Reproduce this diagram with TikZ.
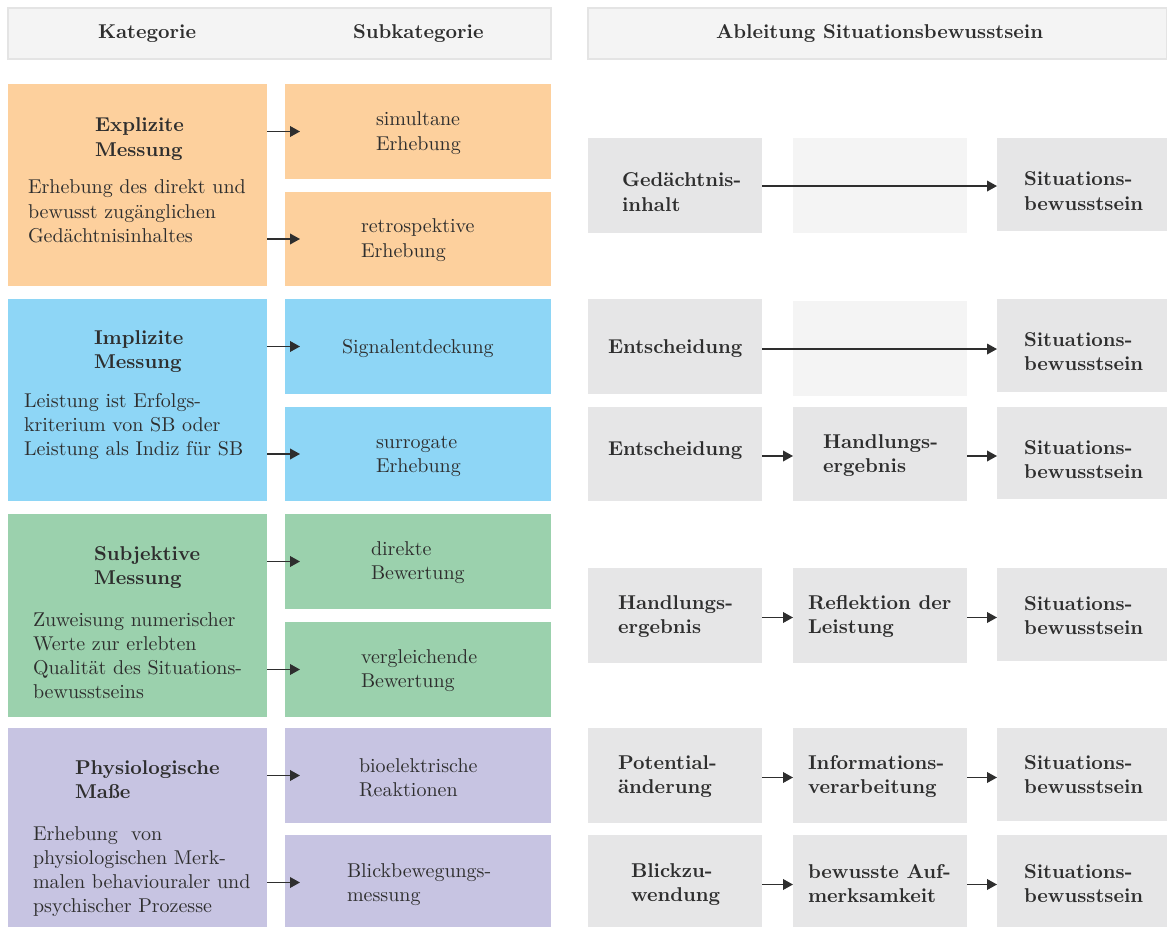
\documentclass[tikz,border=0pt]{standalone}
\usetikzlibrary{fit,arrows.meta}
\definecolor{cOr}{HTML}{FDD09D}
\definecolor{cBl}{HTML}{8ED6F6}
\definecolor{cGr}{HTML}{9BD1AD}
\definecolor{cPu}{HTML}{C7C4E2}
\definecolor{cGy}{HTML}{E6E6E7}
\definecolor{cLg}{HTML}{F4F4F4}
\definecolor{hdline}{HTML}{E4E4E4}
\definecolor{txt}{HTML}{2E2E2E}
\font\lmreg="[lmroman10-regular]:+tlig;" at 15pt
\font\lmbold="[lmroman10-bold]:+tlig;" at 15pt
\begin{document}
\begin{tikzpicture}[x=0.75pt,y=-0.75pt,
  every node/.style={font=\fontsize{15}{18.2}\selectfont\lmreg, text=txt, inner sep=0pt, outer sep=0pt},
  box/.style={fit={#1}, inner sep=0pt, draw=none},
  lbl/.style={anchor=base west, align=left},
  blbl/.style={anchor=base west, align=left, font=\fontsize{15}{18.2}\selectfont\lmbold},
  n2/.style={yshift=-18.2pt},
  n3/.style={yshift=-36.4pt},
  n4/.style={yshift=-54.6pt},
  arr/.style={-{Triangle[length=7.5pt,width=8pt]}, line width=1.1pt, draw=txt},
  gbox/.style={fill=cGy},
  lbox/.style={fill=cLg}
]
\useasboundingbox (0,0) rectangle (1167,927);

% headers
\node[box={(8,8)(551,59)}, fill=cLg, draw=hdline, line width=0.8pt] (hb1) {};
\node[box={(588,8)(1167,59)}, fill=cLg, draw=hdline, line width=0.8pt] (hb2) {};
\node[blbl] (h1) at (98,39) {Kategorie};
\node[blbl] (h2) at (353,39) {Subkategorie};
\node[blbl] (h3) at (716,39) {Ableitung Situationsbewusstsein};

% left boxes
\node[box={(8,84)(267,286)}, fill=cOr] (k1) {};
\node[box={(285,84)(551,179)}, fill=cOr] (k1a) {};
\node[box={(285,192)(551,286)}, fill=cOr] (k1b) {};
\node[box={(8,299)(267,501)}, fill=cBl] (k2) {};
\node[box={(285,299)(551,394)}, fill=cBl] (k2a) {};
\node[box={(285,407)(551,501)}, fill=cBl] (k2b) {};
\node[box={(8,514)(267,717)}, fill=cGr] (k3) {};
\node[box={(285,514)(551,609)}, fill=cGr] (k3a) {};
\node[box={(285,622)(551,717)}, fill=cGr] (k3b) {};
\node[box={(8,728)(267,930)}, fill=cPu] (k4) {};
\node[box={(285,728)(551,823)}, fill=cPu] (k4a) {};
\node[box={(285,835)(551,930)}, fill=cPu] (k4b) {};

% left texts
\node[blbl,n2] (t1) at (95,132) {Explizite\\Messung};
\node[lbl,n3] (d1) at (28,194) {Erhebung des direkt und\\bewusst zugänglichen\\Gedächtnisinhaltes};
\node[blbl,n2] (t2) at (94,344) {Implizite\\Messung};
\node[lbl,n3] (d2) at (24,407) {Leistung ist Erfolgs-\\kriterium von SB oder\\Leistung als Indiz für SB};
\node[blbl,n2] (t3) at (94,560) {Subjektive\\Messung};
\node[lbl,n4] (d3) at (33,626) {Zuweisung numerischer\\Werte zur erlebten\\Qualität des Situations-\\bewusstseins};
\node[blbl,n2] (t4) at (75,774) {Physiologische\\Maße};
\node[lbl,n4] (d4) at (33,840) {Erhebung\ \ von\\physiologischen Merk-\\malen behaviouraler und\\psychischer Prozesse};

\node[lbl,n2] (s1a) at (376,126) {simultane\\Erhebung};
\node[lbl,n2] (s1b) at (361,233) {retrospektive\\Erhebung};
\node[lbl] (s2a) at (342,353) {Signalentdeckung};
\node[lbl,n2] (s2b) at (376,448) {surrogate\\Erhebung};
\node[lbl,n2] (s3a) at (371,555) {direkte\\Bewertung};
\node[lbl,n2] (s3b) at (361,663) {vergleichende\\Bewertung};
\node[lbl,n2] (s4a) at (359,772) {bioelektrische\\Reaktionen};
\node[lbl,n2] (s4b) at (347,877) {Blickbewegungs-\\messung};

% left arrows
\foreach \k in {1,2,3,4}{
  \draw[arr] (k\k.east |- k\k a) -- ([xshift=11.25pt]k\k a.west);
  \draw[arr] (k\k.east |- k\k b) -- ([xshift=11.25pt]k\k b.west);
}

% right boxes
\node[box={(588,138)(762,233)}, gbox] (r1a) {};
\node[box={(793,138)(967,233)}, lbox] (r1b) {};
\node[box={(997,138)(1167,231)}, gbox] (r1c) {};
\node[box={(588,299)(762,394)}, gbox] (r2a) {};
\node[box={(793,301)(967,396)}, lbox] (r2b) {};
\node[box={(997,299)(1167,392)}, gbox] (r2c) {};
\node[box={(588,407)(762,501)}, gbox] (r3a) {};
\node[box={(793,407)(967,501)}, gbox] (r3b) {};
\node[box={(997,407)(1167,499)}, gbox] (r3c) {};
\node[box={(588,568)(762,663)}, gbox] (r4a) {};
\node[box={(793,568)(967,663)}, gbox] (r4b) {};
\node[box={(997,568)(1167,661)}, gbox] (r4c) {};
\node[box={(588,728)(762,823)}, gbox] (r5a) {};
\node[box={(793,728)(967,823)}, gbox] (r5b) {};
\node[box={(997,728)(1167,821)}, gbox] (r5c) {};
\node[box={(588,835)(762,930)}, gbox] (r6a) {};
\node[box={(793,835)(967,930)}, gbox] (r6b) {};
\node[box={(997,835)(1167,930)}, gbox] (r6c) {};

% right texts
\node[blbl,n2] (u1a) at (622,187) {Gedächtnis-\\inhalt};
\node[blbl,n2] (u1c) at (1024,186) {Situations-\\bewusstsein};
\node[blbl] (u2a) at (608,353) {Entscheidung};
\node[blbl,n2] (u2c) at (1024,346) {Situations-\\bewusstsein};
\node[blbl] (u3a) at (608,455) {Entscheidung};
\node[blbl,n2] (u3b) at (823,448) {Handlungs-\\ergebnis};
\node[blbl,n2] (u3c) at (1024,454) {Situations-\\bewusstsein};
\node[blbl,n2] (u4a) at (618,609) {Handlungs-\\ergebnis};
\node[blbl,n2] (u4b) at (808,609) {Reflektion der\\Leistung};
\node[blbl,n2] (u4c) at (1024,610) {Situations-\\bewusstsein};
\node[blbl,n2] (u5a) at (618,769) {Potential-\\änderung};
\node[blbl,n2] (u5b) at (808,769) {Informations-\\verarbeitung};
\node[blbl,n2] (u5c) at (1024,769) {Situations-\\bewusstsein};
\node[blbl,n2] (u6a) at (631,877) {Blickzu-\\wendung};
\node[blbl,n2] (u6b) at (808,878) {bewusste Auf-\\merksamkeit};
\node[blbl,n2] (u6c) at (1024,878) {Situations-\\bewusstsein};

% right arrows
\draw[arr] ([yshift=-0.4pt]r1a.east) -- ([yshift=-0.4pt]r1a.east -| r1c.west);
\draw[arr] ([yshift=-1.9pt]r2a.east) -- ([yshift=-1.9pt]r2a.east -| r2c.west);
\foreach \r in {3,4,5,6}{
  \draw[arr] ([yshift=-1.5pt]r\r a.east) -- ([yshift=-1.5pt]r\r a.east -| r\r b.west);
  \draw[arr] ([yshift=-1.5pt]r\r a.east -| r\r b.east) -- ([yshift=-1.5pt]r\r a.east -| r\r c.west);
}
\end{tikzpicture}
\end{document}
